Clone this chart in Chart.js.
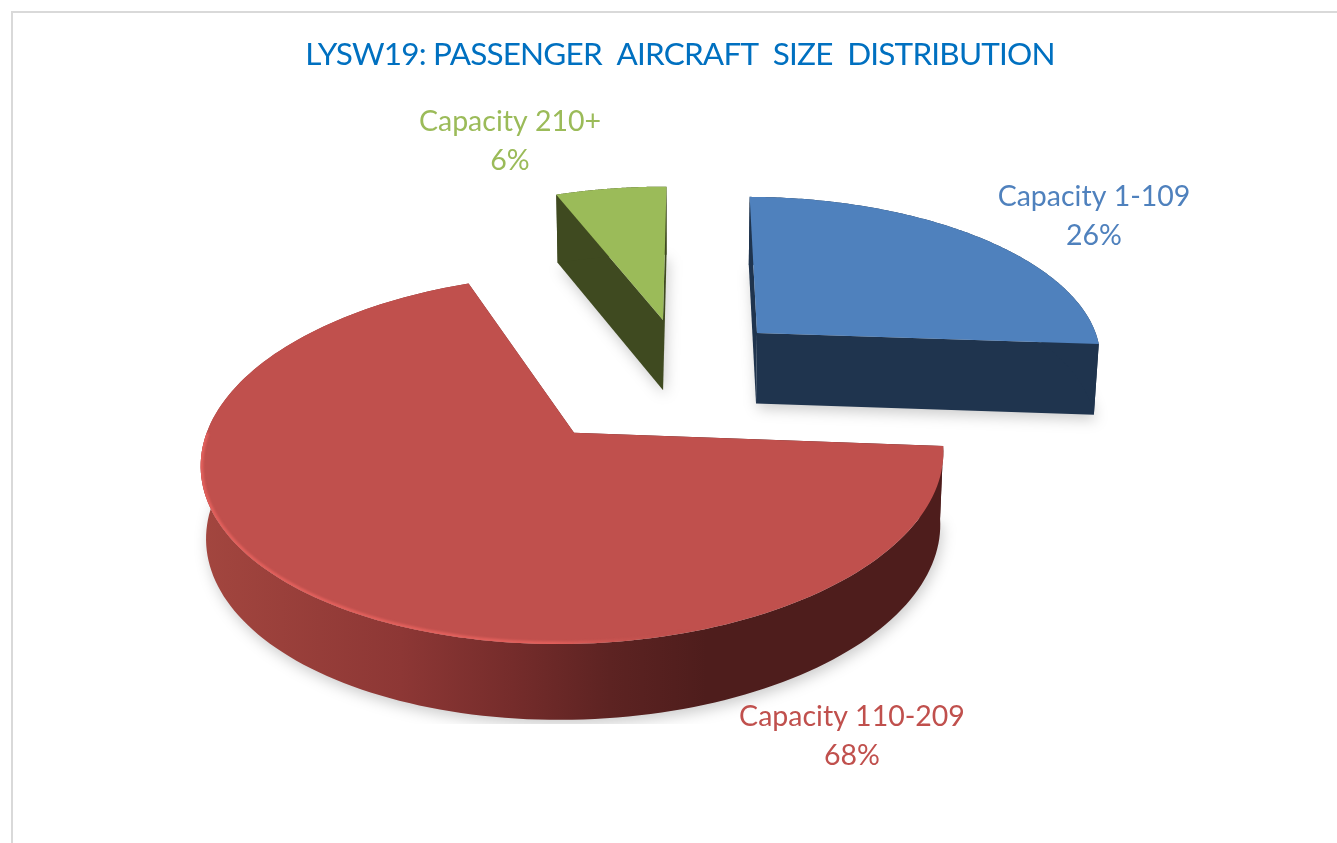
<!DOCTYPE html>
<html>
<head>
<meta charset="utf-8">
<style>
  html, body { margin: 0; background: #fff; overflow: hidden; }
  #frame { position: absolute; left: 11px; top: 11px; width: 1400px; height: 900px; border: 2px solid #d9d9d9; }
  canvas { position: absolute; left: 0; top: 0; }
</style>
<script src="https://cdn.jsdelivr.net/npm/chart.js@4"></script>
</head>
<body>
<div id="frame"></div>
<canvas id="myChart" width="1337" height="843"></canvas>
<script>
const categories = ['Capacity 1-109', 'Capacity 110-209', 'Capacity 210+'];
const shares = [26, 68, 6];
const sliceColors = ['#4f81bd', '#c0504d', '#9bbb59'];
const sideColors = ['#1f344e', '#4e1d1c', '#3f4a20'];
const chartTitle = 'LYSW19: PASSENGER  AIRCRAFT  SIZE  DISTRIBUTION';

// exploded slice shift, in units of pie radius, on the tilted plane
const sliceShift = [[0.254, -0.2379], [-0.264, 0.36], [-0.0239, -0.3233]];
const labelSpots = [[1094, 197], [852, 717], [510, 122]];

// camera: top face and bottom face of the pie
const camera = { cx: 671, k: 0.135 };
const topFace = { cy: 370.8, a: 349.5, b: 164 };
const bottomFace = { cy: 442, a: 345.5, b: 166.8 };

function project(face, u, v) {
    let w = 1 - camera.k * v;
    return [camera.cx + face.a * u / w, face.cy + face.b * v / w];
}

function arcPoints(face, arc, i) {
    let pts = [];
    let steps = 160;
    let [su, sv] = sliceShift[i];
    for (let s = 0; s <= steps; s++) {
        let t = arc.startAngle + (arc.endAngle - arc.startAngle) * s / steps;
        pts.push(project(face, su + Math.cos(t), sv + Math.sin(t)));
    }
    return pts;
}

function tracePath(ctx, pts) {
    ctx.beginPath();
    pts.forEach((p, n) => n ? ctx.lineTo(p[0], p[1]) : ctx.moveTo(p[0], p[1]));
    ctx.closePath();
}

function redRimGradient(ctx) {
    let g = ctx.createLinearGradient(200, 0, 945, 0);
    g.addColorStop(0, '#a3463f');
    g.addColorStop(0.27, '#8d3735');
    g.addColorStop(0.42, '#752c2b');
    g.addColorStop(0.55, '#5d2322');
    g.addColorStop(0.68, '#4e1d1c');
    g.addColorStop(1, '#4e1d1c');
    return g;
}

const pie3d = {
    id: 'pie3d',
    beforeDraw(chart) {
        // title is set a bit tight, the font is wider than the original one
        chart.ctx.letterSpacing = '-0.8px';
    },
    beforeDatasetDraw(chart) {
        let ctx = chart.ctx;
        let arcs = chart.getDatasetMeta(0).data;
        ctx.letterSpacing = '0px';

        [2, 0, 1].forEach(i => {
            let arc = arcs[i];
            let top = arcPoints(topFace, arc, i);
            let bottom = arcPoints(bottomFace, arc, i);
            let apexTop = project(topFace, sliceShift[i][0], sliceShift[i][1]);
            let apexBottom = project(bottomFace, sliceShift[i][0], sliceShift[i][1]);
            let side = i == 1 ? redRimGradient(ctx) : sideColors[i];

            // soft shadow under the slice
            ctx.save();
            ctx.beginPath();
            ctx.rect(0, 0, 1337, 724);
            ctx.clip();
            ctx.filter = 'blur(7px)';
            ctx.fillStyle = 'rgba(0,0,0,0.2)';
            tracePath(ctx, [apexBottom].concat(bottom).map(p => [p[0] + 2, p[1] + 5]));
            ctx.fill();
            ctx.restore();

            // cut faces, then rim, then the top
            ctx.fillStyle = side;
            tracePath(ctx, [apexTop, top[0], bottom[0], apexBottom]);
            ctx.fill();
            tracePath(ctx, [apexTop, top[top.length - 1], bottom[bottom.length - 1], apexBottom]);
            ctx.fill();
            tracePath(ctx, top.concat(bottom.slice().reverse()));
            ctx.fill();

            ctx.fillStyle = arc.options.backgroundColor;
            tracePath(ctx, [apexTop].concat(top));
            ctx.fill();

            if (i == 1) {
                // light bevel along the near edge, kept inside the top face
                let g = ctx.createLinearGradient(200, 0, 690, 0);
                g.addColorStop(0, '#e2605c');
                g.addColorStop(0.72, '#e2605c');
                g.addColorStop(1, 'rgba(192,80,77,0)');
                ctx.save();
                tracePath(ctx, [apexTop].concat(top));
                ctx.clip();
                ctx.filter = 'blur(0.8px)';
                ctx.strokeStyle = g;
                ctx.lineWidth = 5;
                ctx.beginPath();
                top.slice(40, 116).forEach((p, n) => n ? ctx.lineTo(p[0], p[1]) : ctx.moveTo(p[0], p[1]));
                ctx.stroke();
                ctx.restore();
            }
        });
        return false;
    },
    afterDatasetsDraw(chart) {
        let ctx = chart.ctx;
        ctx.save();
        ctx.font = '28.5px Lato';
        ctx.textAlign = 'center';
        ctx.textBaseline = 'middle';
        categories.forEach((name, i) => {
            ctx.fillStyle = sliceColors[i];
            ctx.fillText(name, labelSpots[i][0], labelSpots[i][1]);
            ctx.fillText(shares[i] + '%', labelSpots[i][0], labelSpots[i][1] + 39);
        });
        ctx.restore();
    }
};

let myChart = new Chart(document.getElementById('myChart').getContext('2d'), {
    type: 'pie',
    data: {
        labels: categories,
        datasets: [{ data: shares, backgroundColor: sliceColors, borderWidth: 0 }]
    },
    options: {
        responsive: false,
        animation: false,
        rotation: 0.5,
        layout: { padding: { top: 25.6, left: 23 } },
        plugins: {
            legend: { display: false },
            tooltip: { enabled: false },
            title: {
                display: true,
                text: chartTitle,
                color: '#0070c0',
                font: { family: 'Lato', size: 31.5, weight: 'normal' }
            }
        }
    },
    plugins: [pie3d]
});
</script>
</body>
</html>
